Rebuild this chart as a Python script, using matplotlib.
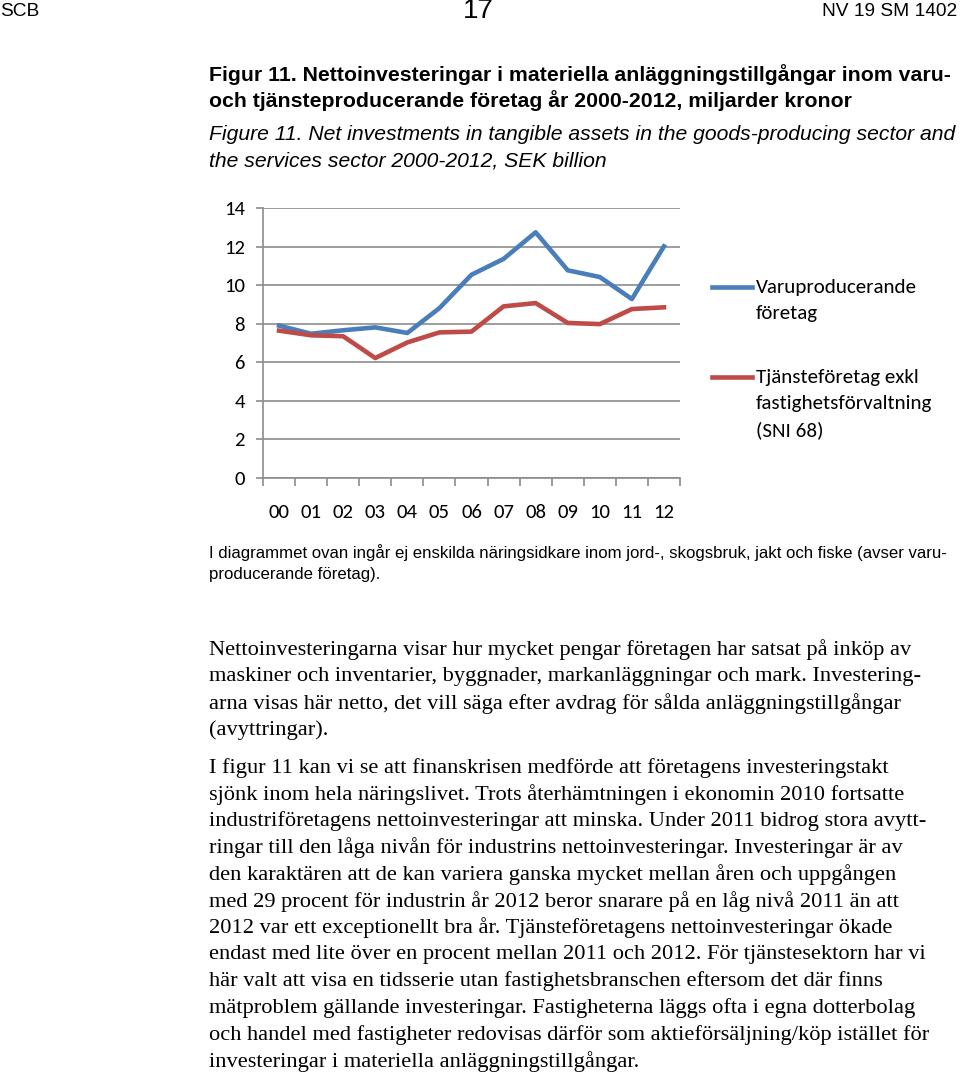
import matplotlib
matplotlib.use('Agg')
import numpy as np
import matplotlib.pyplot as plt
from matplotlib.lines import Line2D

# data
years = ['00', '01', '02', '03', '04', '05', '06', '07', '08', '09', '10', '11', '12']
varu = [7.90, 7.48, 7.66, 7.81, 7.52, 8.81, 10.54, 11.36, 12.74, 10.77, 10.42, 9.28, 12.01]
tjanste = [7.64, 7.40, 7.35, 6.22, 7.03, 7.55, 7.59, 8.90, 9.07, 8.04, 7.98, 8.76, 8.85]
yticks = [0, 2, 4, 6, 8, 10, 12, 14]
labels = [['Varuproducerande', 'företag'],
          ['Tjänsteföretag exkl', 'fastighetsförvaltning', '(SNI 68)']]
colors = ['#4A7EBB', '#BE4B48']

W, H = 960, 1077
fig = plt.figure(figsize=(W / 100, H / 100), dpi=100)
renderer = fig.canvas.get_renderer()

sans = ['Liberation Sans Narrow', 'Liberation Sans', 'DejaVu Sans']
serif = ['Liberation Serif', 'DejaVu Serif']
calib = ['Carlito', 'Lato', 'DejaVu Sans']


def fit(s, width, **kw):
    # font size that gives the text the wanted pixel width
    t = fig.text(0, 0, s, fontsize=10, **kw)
    w = t.get_window_extent(renderer).width
    t.remove()
    return 10 * width / w


def put(x, y, s, size, **kw):
    return fig.text(x / W, 1 - y / H, s, fontsize=size, va='center', **kw)


# header
hs = fit('NV 19 SM 1402', 135, family=sans)
put(0, 12, 'SCB', hs, family=sans)
put(478, 11, '17', hs * 1.45, family=sans, ha='center')
put(957, 12, 'NV 19 SM 1402', hs, family=sans, ha='right')

# titles
t1 = 'Figur 11. Nettoinvesteringar i materiella anläggningstillgångar inom varu-'
ts = fit(t1, 740, family=sans, weight='bold')
put(209, 75, t1, ts, family=sans, weight='bold')
put(209, 101, 'och tjänsteproducerande företag år 2000-2012, miljarder kronor', ts, family=sans, weight='bold')
t2 = 'Figure 11. Net investments in tangible assets in the goods-producing sector and'
its = fit(t2, 747, family=sans, style='italic')
put(209, 135, t2, its, family=sans, style='italic')
put(209, 161, 'the services sector 2000-2012, SEK billion', its, family=sans, style='italic')

# chart
ax = fig.add_axes([263 / W, 1 - 478 / H, 417 / W, 270 / H])
x = np.arange(len(years))
ax.plot(x, varu, color=colors[0], lw=3.3)
ax.plot(x, tjanste, color=colors[1], lw=3.3)
ax.set_xlim(-0.5, len(years) - 0.5)
ax.set_ylim(0, 14)
ax.set_yticks(yticks)
ax.set_xticks(x)
ax.set_xticklabels(years)
ax.set_xticks(np.arange(-0.5, len(years), 1), minor=True)
ax.yaxis.grid(True, color='#8C8C8C', lw=1.2)
ax.set_axisbelow(True)
for s in ['top', 'right']:
    ax.spines[s].set_visible(False)
for s in ['left', 'bottom']:
    ax.spines[s].set_color('#8C8C8C')
    ax.spines[s].set_linewidth(1.2)
cs = fit('14', 21, family=calib)
ax.tick_params(axis='y', length=5, color='#8C8C8C', width=1.2, pad=8, labelsize=cs)
ax.tick_params(axis='x', which='major', length=0, pad=19, labelsize=cs)
ax.tick_params(axis='x', which='minor', length=6, color='#8C8C8C', width=1.2)
for lab in ax.get_xticklabels() + ax.get_yticklabels():
    lab.set_family(calib)

# legend drawn by hand so the key sits on the first label line
ls = fit('fastighetsförvaltning', 177, family=calib)
for ys, lines, c in zip([287, 377], labels, colors):
    fig.add_artist(Line2D([712 / W, 752 / W], [1 - ys / H, 1 - ys / H], color=c, lw=3.3))
    for i, l in enumerate(lines):
        put(756, ys + 1 + i * 26, l, ls, family=calib)

# note
n1 = 'I diagrammet ovan ingår ej enskilda näringsidkare inom jord-, skogsbruk, jakt och fiske (avser varu-'
ns = fit(n1, 740, family=sans)
put(209, 553, n1, ns, family=sans)
put(209, 575, 'producerande företag).', ns, family=sans)

# body text
body = [
    'Nettoinvesteringarna visar hur mycket pengar företagen har satsat på inköp av',
    'maskiner och inventarier, byggnader, markanläggningar och mark. Investering-',
    'arna visas här netto, det vill säga efter avdrag för sålda anläggningstillgångar',
    '(avyttringar).',
    None,
    'I figur 11 kan vi se att finanskrisen medförde att företagens investeringstakt',
    'sjönk inom hela näringslivet. Trots återhämtningen i ekonomin 2010 fortsatte',
    'industriföretagens nettoinvesteringar att minska. Under 2011 bidrog stora avytt-',
    'ringar till den låga nivån för industrins nettoinvesteringar. Investeringar är av',
    'den karaktären att de kan variera ganska mycket mellan åren och uppgången',
    'med 29 procent för industrin år 2012 beror snarare på en låg nivå 2011 än att',
    '2012 var ett exceptionellt bra år. Tjänsteföretagens nettoinvesteringar ökade',
    'endast med lite över en procent mellan 2011 och 2012. För tjänstesektorn har vi',
    'här valt att visa en tidsserie utan fastighetsbranschen eftersom det där finns',
    'mätproblem gällande investeringar. Fastigheterna läggs ofta i egna dotterbolag',
    'och handel med fastigheter redovisas därför som aktieförsäljning/köp istället för',
    'investeringar i materiella anläggningstillgångar.',
]
bs = fit(body[0], 703, family=serif)
y = 650
for line in body:
    if line is None:
        y += 11
        continue
    put(209, y, line, bs, family=serif)
    y += 26.7

fig.savefig('out.png', dpi=100)
